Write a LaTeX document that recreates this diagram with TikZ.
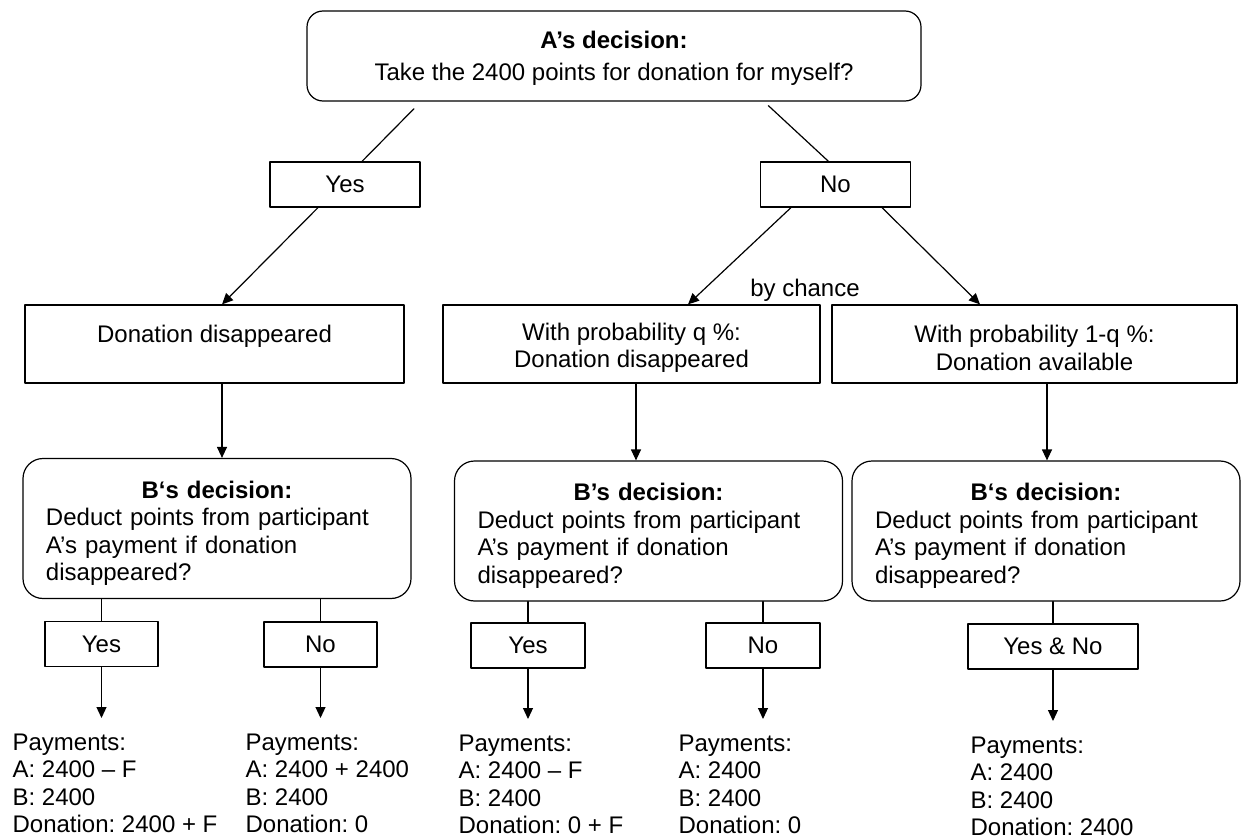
\documentclass[tikz,border=0pt]{standalone}
\usepackage{fontspec}
\setmainfont{Liberation Sans}
\usepackage{tikz}
\usetikzlibrary{arrows.meta,calc,positioning}
\newcommand\btitle[1]{\makebox[171pt][c]{\rule{0pt}{13.5pt}\bfseries#1}}
\frenchspacing

\begin{document}
\begin{tikzpicture}[x=.5pt,y=-.5pt,line cap=round,line join=round,line width=.6pt,
  font=\fontsize{12}{13.8}\selectfont,
  box/.style={draw,minimum height=39pt,align=center,inner sep=0pt},
  choice/.style={draw,minimum height=22.5pt,align=center,inner sep=0pt},
  decbox/.style={draw,rounded corners=10pt,text width=171pt,inner xsep=11.5pt,align=left,minimum height=70pt},
  pay/.style={anchor=north west,align=left,inner xsep=0pt,inner ysep=7.5pt},
  arr/.style={-{Triangle[width=5pt,length=5.5pt]}}]
\useasboundingbox(0,0)rectangle(1243,840);
% A's decision and its answers
\node[draw,rounded corners=8pt,minimum width=307pt,minimum height=45pt,align=center](adec)at(614,56)
  {\rule{0pt}{11pt}\textbf{A’s decision:}\\[2pt]Take the 2400 points for donation for myself?};
\node[choice,minimum width=75pt](yes)at(345,184.5){Yes};
\node[choice,minimum width=75pt](no)at(835.5,184.5){No};
\draw[shorten <=5pt]([xshift=-96.5pt]adec.south)--([xshift=8.5pt]yes.north);
\draw[shorten <=3pt]([xshift=75pt]adec.south)--([xshift=-3.5pt]no.north);
% outcomes for the donation
\node[box,minimum width=189.5pt](gone)at(214.5,344){\rule{0pt}{12.5pt}Donation disappeared\\~};
\node[box,minimum width=188.5pt](probq)at(631.5,344){\rule{0pt}{12.5pt}With probability q \%:\\Donation disappeared};
\node[box,minimum width=202.5pt](probr)at(1034.5,344){\rule{0pt}{12.5pt}With probability 1-q \%:\\Donation available};
\node(chance)at(805,290){by chance};
\draw[arr]([xshift=-13.5pt]yes.south)--([xshift=3.75pt]gone.north);
\draw[arr]([xshift=-22.25pt]no.south)--([xshift=28.25pt]probq.north);
\draw[arr]([xshift=23.25pt]no.south)--([xshift=-27.25pt]probr.north);
% B's decisions
\node[decbox](bdec1)at(217,528.5){\btitle{B‘s decision:}\\Deduct points from participant\\A’s payment if donation\\disappeared?};
\node[decbox](bdec2)at(648.5,531){\btitle{B’s decision:}\\Deduct points from participant\\A’s payment if donation\\disappeared?};
\node[decbox](bdec3)at(1046,531){\btitle{B‘s decision:}\\Deduct points from participant\\A’s payment if donation\\disappeared?};
\draw[arr]([xshift=3.75pt]gone.south)--([xshift=3.75pt]gone.south|-bdec1.north);
\draw[arr]([xshift=2.25pt]probq.south)--([xshift=2.25pt]probq.south|-bdec2.north);
\draw[arr]([xshift=6.25pt]probr.south)--([xshift=6.25pt]probr.south|-bdec3.north);
% answers of B and payments
\node[choice,minimum width=56.5pt](yes1)at(101.5,644){Yes};
\node[choice,minimum width=56.5pt](no1)at(320.5,644.5){No};
\node[choice,minimum width=57pt](yes2)at(528,645.5){Yes};
\node[choice,minimum width=57pt](no2)at(763,645.5){No};
\node[choice,minimum width=85pt](yesno)at(1053,646.5){Yes \& No};
\node[pay](pay1)at(12,718){Payments:\\A: 2400 – F\\B: 2400\\Donation: 2400 + F};
\node[pay](pay2)at(245,718){Payments:\\A: 2400 + 2400\\B: 2400\\Donation: 0};
\node[pay](pay3)at(458,719){Payments:\\A: 2400 – F\\B: 2400\\Donation: 0 + F};
\node[pay](pay4)at(678,719){Payments:\\A: 2400\\B: 2400\\Donation: 0};
\node[pay](pay5)at(970,721){Payments:\\A: 2400\\B: 2400\\Donation: 2400};
\foreach \c/\d/\p in {yes1/bdec1/pay1,no1/bdec1/pay2,yes2/bdec2/pay3,no2/bdec2/pay4,yesno/bdec3/pay5}{
  \draw(\c.north|-\d.south)--(\c);
  \draw[arr](\c)--(\c|-\p.north);
}
\end{tikzpicture}
\end{document}
